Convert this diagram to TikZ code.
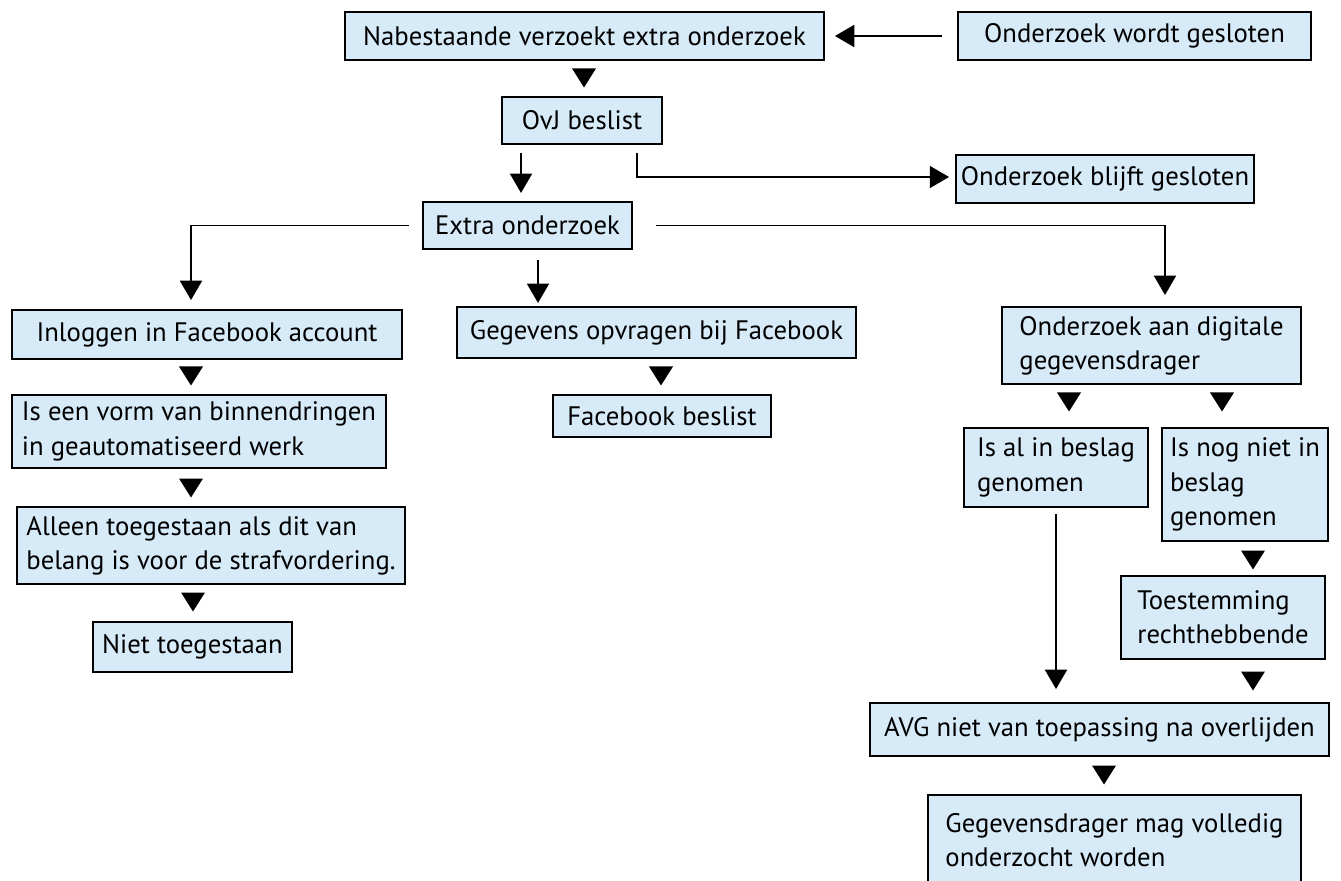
\documentclass[tikz,border=0pt]{standalone}
\usepackage{fontspec}
\setmainfont{PT Sans}
\usepackage{xcolor}
\usepackage{tikz}
\usetikzlibrary{arrows.meta, positioning, calc}
\definecolor{boxblue}{HTML}{D6EAF8}
\tikzset{
    box/.style={
        rectangle,
        draw=black,
        line width=1.1pt,
        fill=boxblue,
        align=left,
        inner sep=0pt,
        font=\fontsize{15.2pt}{19.5pt}\selectfont,
    },
    flow/.style={
        draw=black,
        line width=1.1pt,
        -{Triangle[width=12.5pt,length=11pt]},
    },
    dtri/.pic={
        \fill[black] (-12,-9.5) -- (12,-9.5) -- (0,9.5) -- cycle;
    },
}

\begin{document}
\begin{tikzpicture}[x=0.02cm, y=-0.02cm]
      \clip (0,0) rectangle (1341,881);

      \node[box, minimum width=9.58cm, minimum height=0.96cm] (nab) at (584.5,36) {Nabestaande verzoekt extra onderzoek};
      \node[box, minimum width=7.06cm, minimum height=0.96cm] (gesl) at (1134.5,36) {Onderzoek wordt gesloten};
      \node[box, minimum width=3.20cm, minimum height=0.94cm] (ovj) at (582,120.5) {OvJ beslist};
      \node[box, minimum width=5.96cm, minimum height=0.96cm] (blijft) at (1105,179) {Onderzoek blijft gesloten};
      \node[box, minimum width=4.18cm, minimum height=0.94cm] (extra) at (527.5,225.5) {Extra onderzoek};

      \node[box, minimum width=7.80cm, minimum height=0.98cm] (inlog) at (207,334.5) {Inloggen in Facebook account};
      \node[box, minimum width=7.48cm, minimum height=1.46cm] (vorm) at (199,431.5) {Is een vorm van binnendringen\\in geautomatiseerd werk};
      \node[box, minimum width=7.76cm, minimum height=1.54cm] (alleen) at (211,545.5) {Alleen toegestaan als dit van\\belang is voor de strafvordering.};
      \node[box, minimum width=3.98cm, minimum height=1.00cm] (niet) at (192.5,647) {Niet toegestaan};

      \node[box, minimum width=7.98cm, minimum height=1.02cm] (gegev) at (656.5,332.5) {Gegevens opvragen bij Facebook};
      \node[box, minimum width=4.36cm, minimum height=0.84cm] (fbbes) at (662,416) {Facebook beslist};

      \node[box, minimum width=5.98cm, minimum height=1.54cm] (digi) at (1151.5,345.5) {Onderzoek aan digitale\\gegevensdrager};
      \node[box, minimum width=3.68cm, minimum height=1.58cm] (beslag) at (1056,467.5) {Is al in beslag\\genomen};
      \node[box, minimum width=3.32cm, minimum height=2.26cm] (nogniet) at (1245,484.5) {Is nog niet in\\beslag\\genomen};
      \node[box, minimum width=4.08cm, minimum height=1.66cm] (toest) at (1223,617.5) {Toestemming\\rechthebbende};
      \node[box, minimum width=9.18cm, minimum height=1.06cm] (avg) at (1099.5,729.5) {AVG niet van toepassing na overlijden};
      \node[box, minimum width=7.46cm, minimum height=1.80cm] (gdrag) at (1114.5,840) {Gegevensdrager mag volledig\\onderzocht worden};

      \draw[flow, shorten <=0.3cm, shorten >=0.2cm] (gesl.west) -- (nab.east);
      \draw[flow] ([shift={(-1.22cm,-0.16cm)}]ovj.south) -- ++(0,-0.8cm);
      \draw[flow, shorten >=0.12cm] ([shift={(1.1cm,-0.16cm)}]ovj.south) |- ([yshift=0.04cm]blijft.west);
      \draw[flow, shorten <=0.26cm, shorten >=0.18cm] (extra.west) -| ([xshift=-0.32cm]inlog.north);
      \draw[flow] ([shift={(0.21cm,-0.2cm)}]extra.south) -- ++(0,-0.86cm);
      \draw[flow, shorten <=0.46cm, shorten >=0.22cm] (extra.east) -| ([xshift=0.27cm]digi.north);
      \draw[flow, shorten <=0.12cm, shorten >=0.26cm] (beslag.south) -- (beslag.south |- avg.north);

      \pic at (584,78) {dtri};
      \pic at (191,376) {dtri};
      \pic at (191,488) {dtri};
      \pic at (193,602) {dtri};
      \pic at (661,376) {dtri};
      \pic at (1069,402) {dtri};
      \pic at (1222,402) {dtri};
      \pic at (1253,560) {dtri};
      \pic at (1253,681) {dtri};
      \pic at (1104,775) {dtri};

    \end{tikzpicture}
\end{document}
